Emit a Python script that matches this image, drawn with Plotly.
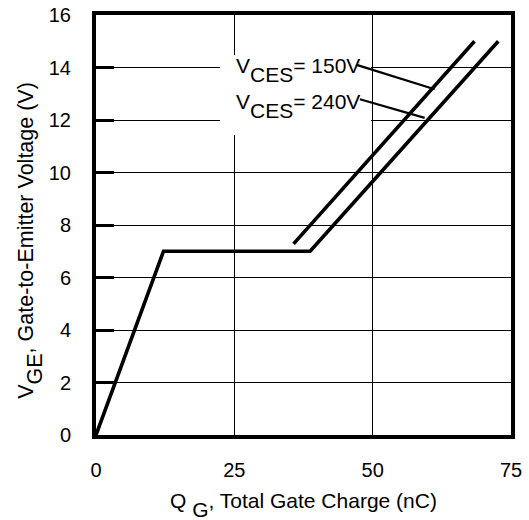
import plotly.graph_objects as go

# Gate charge curves: V_GE versus total gate charge Q_G
q_240 = [0, 12.2, 38.7, 72.7]
v_240 = [0, 7.0, 7.0, 15.0]
q_150 = [35.7, 68.4]
v_150 = [7.28, 15.0]

x_ticks = [0, 25, 50, 75]
y_ticks = [0, 2, 4, 6, 8, 10, 12, 14, 16]

FONT = "Liberation Sans, Arial, Helvetica, sans-serif"
FS_TICK = 20
FS_TEXT = 21


def sub(s):
    # full-size subscript dropped below the baseline
    return f"<span style='baseline-shift:-9px'>{s}</span>"


fig = go.Figure()
curve = dict(color="black", width=3.6)
fig.add_trace(go.Scatter(x=q_240, y=v_240, mode="lines", line=curve, showlegend=False))
fig.add_trace(go.Scatter(x=q_150, y=v_150, mode="lines", line=curve, showlegend=False))

# white area behind the curve labels (covers grid only)
fig.add_shape(type="rect", x0=22.4, x1=49.7, y0=11.43, y1=14.48,
              fillcolor="white", line=dict(width=0), layer="between")

# leader lines from labels to the curves
fig.add_shape(type="line", x0=47.1, y0=14.1, x1=61.2, y1=13.17,
              line=dict(color="black", width=2.2))
fig.add_shape(type="line", x0=47.7, y0=12.79, x1=59.4, y1=12.08,
              line=dict(color="black", width=2.2))

for label, yv in (("= 150V", 13.92), ("= 240V", 12.54)):
    fig.add_annotation(x=24.9, y=yv, xref="x", yref="y", xanchor="left", yanchor="middle",
                       text="V" + sub("CES") + label, showarrow=False,
                       font=dict(family=FONT, size=FS_TEXT, color="black"))

# axis titles
fig.add_annotation(x=0.5, y=-0.1676, xref="paper", yref="paper",
                   xanchor="center", yanchor="middle", showarrow=False,
                   text="Q " + sub("G") + ", Total Gate Charge (nC)",
                   font=dict(family=FONT, size=FS_TEXT, color="black"))
fig.add_annotation(x=-0.1564, y=0.4626, xref="paper", yref="paper",
                   xanchor="center", yanchor="middle", showarrow=False, textangle=-90,
                   text="V" + sub("GE") + ", Gate-to-Emitter Voltage (V)",
                   font=dict(family=FONT, size=21.5, color="black"))

axis_common = dict(
    showline=True, linecolor="black", linewidth=4, mirror=True,
    showgrid=True, gridcolor="black", gridwidth=1, zeroline=False,
    tickfont=dict(family=FONT, size=FS_TICK, color="black"),
    automargin=False,
)

fig.update_xaxes(
    range=[0, 75], tickvals=x_ticks, ticktext=[str(v) for v in x_ticks],
    ticks="", ticklabelstandoff=14, **axis_common,
)
fig.update_yaxes(
    range=[0, 16], tickvals=y_ticks, ticktext=[str(v) for v in y_ticks],
    ticks="inside", ticklen=18, tickwidth=3, tickcolor="black", ticklabelstandoff=17,
    **axis_common,
)

fig.update_layout(
    width=529, height=520,
    margin=dict(l=96, r=18, t=15, b=85),
    paper_bgcolor="white", plot_bgcolor="white",
    font=dict(family=FONT, size=FS_TICK, color="black"),
)

fig.write_html("out.html")
